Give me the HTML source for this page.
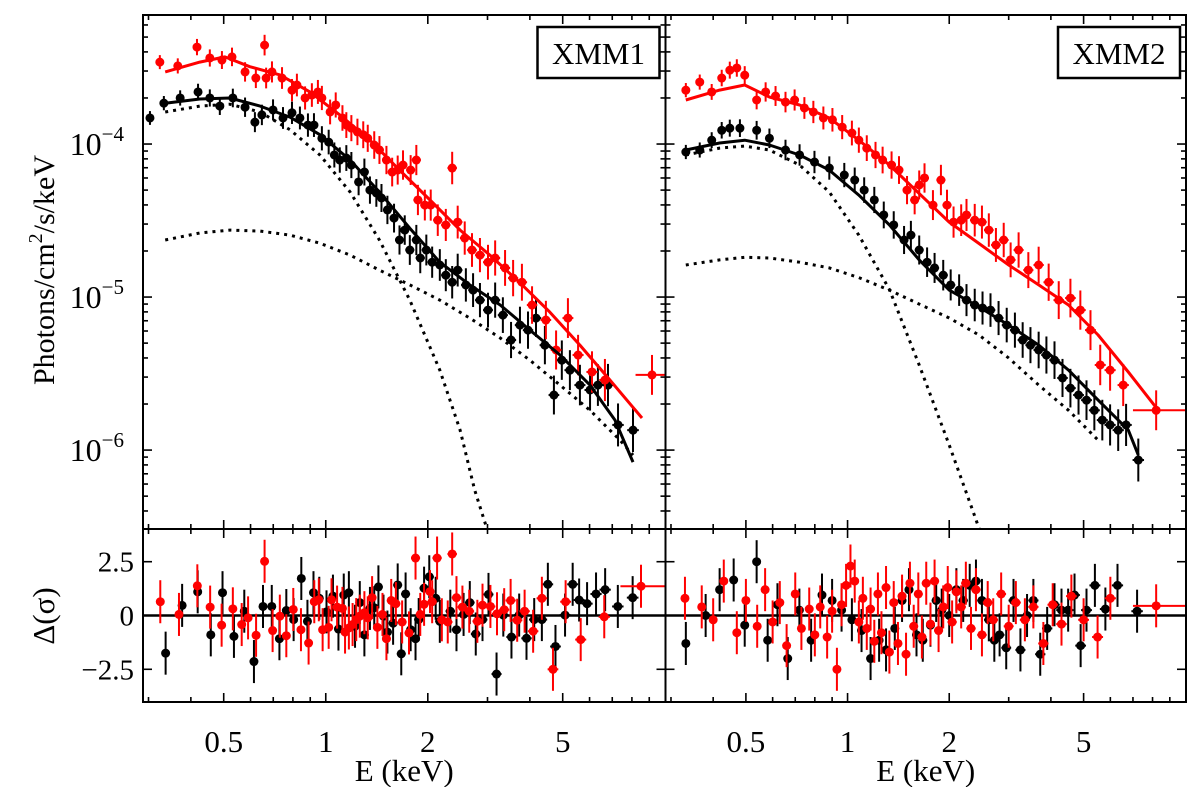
<!DOCTYPE html>
<html><head><meta charset="utf-8"><style>
body{margin:0;background:#fff}
svg text{font-family:"Liberation Serif",serif;fill:#000}
</style></head><body>
<svg id="chart" width="1200" height="787" viewBox="0 0 1200 787" xmlns="http://www.w3.org/2000/svg"></svg>
<script>
// ---------- data: XMM1 ----------
const m1RedE=[0.324,0.366,0.417,0.455,0.494,0.529,0.578,0.622,0.66,0.667,0.694,0.743,0.795,0.822,0.869,0.910,0.948,0.974,1.03,1.07,1.12,1.15,1.19,1.24,1.29,1.33,1.39,1.44,1.51,1.57,1.63,1.69,1.78,1.85,1.87,1.96,2.04,2.14,2.26,2.36,2.45,2.57,2.70,2.85,3.01,3.16,3.38,3.57,3.79,4.06,4.46,4.78,5.18,5.55,6.10,6.66];
const m1RedF=[3.43e-4,3.24e-4,4.30e-4,3.65e-4,3.54e-4,3.71e-4,2.96e-4,2.70e-4,4.43e-4,2.70e-4,2.96e-4,2.70e-4,2.25e-4,2.43e-4,2.00e-4,2.09e-4,2.19e-4,2.00e-4,1.62e-4,1.80e-4,1.48e-4,1.33e-4,1.27e-4,1.20e-4,1.15e-4,1.09e-4,0.985e-4,0.914e-4,0.786e-4,0.656e-4,0.676e-4,0.729e-4,0.676e-4,0.786e-4,4.31e-5,3.99e-5,3.99e-5,3.18e-5,2.96e-5,6.97e-5,3.09e-5,2.43e-5,2.03e-5,1.88e-5,1.69e-5,1.80e-5,1.55e-5,1.33e-5,1.25e-5,8.87e-6,7.08e-6,4.51e-6,7.29e-6,4.18e-6,3.24e-6,2.87e-6];
const m1RedLastE=[9.17], m1RedLastF=[3.1e-6], m1RedLastLo=[8.2], m1RedLastHi=[10.05];
const m1BlkE=[0.303,0.333,0.372,0.420,0.455,0.487,0.532,0.578,0.618,0.648,0.699,0.748,0.795,0.839,0.886,0.923,0.974,1.02,1.06,1.10,1.15,1.19,1.25,1.30,1.35,1.41,1.46,1.52,1.59,1.65,1.71,1.77,1.85,1.90,1.98,2.06,2.17,2.26,2.36,2.45,2.59,2.72,2.85,3.01,3.16,3.33,3.52,3.74,3.95,4.17,4.43,4.71,4.97,5.25,5.62,6.02,6.35,6.80,7.28,8.06];
const m1BlkF=[1.48e-4,1.85e-4,2.00e-4,2.19e-4,2.00e-4,1.77e-4,2.00e-4,1.74e-4,1.39e-4,1.55e-4,1.67e-4,1.48e-4,1.60e-4,1.48e-4,1.33e-4,1.33e-4,1.09e-4,1.03e-4,0.848e-4,0.786e-4,0.810e-4,0.729e-4,0.565e-4,0.656e-4,0.500e-4,4.79e-5,4.44e-5,3.71e-5,3.28e-5,2.36e-5,2.74e-5,2.03e-5,2.36e-5,1.80e-5,2.03e-5,1.69e-5,1.62e-5,1.39e-5,1.25e-5,1.50e-5,1.20e-5,1.11e-5,9.55e-6,8.22e-6,9.55e-6,7.62e-6,5.24e-6,6.56e-6,6.08e-6,7.29e-6,4.85e-6,2.29e-6,3.87e-6,3.33e-6,2.66e-6,2.47e-6,2.66e-6,2.66e-6,1.46e-6,1.35e-6];
const m1RedModE=[0.336,0.425,0.504,0.597,0.733,0.898,1.10,1.35,1.65,2.03,2.49,3.05,3.74,4.58,5.62,6.89,8.57];
const m1RedModF=[2.96e-4,3.43e-4,3.71e-4,3.20e-4,2.83e-4,2.19e-4,1.55e-4,1.06e-4,6.76e-5,4.31e-5,2.74e-5,1.88e-5,1.24e-5,7.98e-6,4.85e-6,2.87e-6,1.62e-6];
const m1BlkModE=[0.336,0.425,0.521,0.640,0.784,0.961,1.18,1.44,1.77,2.17,2.66,3.27,4.00,4.91,6.02,7.13,8.06];
const m1BlkModF=[1.85e-4,1.97e-4,2.0e-4,1.77e-4,1.50e-4,1.15e-4,7.86e-5,4.86e-5,2.82e-5,1.69e-5,1.20e-5,8.87e-6,6.08e-6,4.18e-6,2.66e-6,1.57e-6,8.35e-7];
const m1BbE=[0.336,0.425,0.521,0.640,0.784,0.961,1.18,1.44,1.77,2.17,2.49,2.75,2.99];
const m1BbF=[1.62e-4,1.77e-4,1.82e-4,1.62e-4,1.24e-4,8.48e-5,4.86e-5,2.36e-5,9.55e-6,3.33e-6,1.35e-6,5.48e-7,3.05e-7];
const m1PlE=[0.336,0.425,0.521,0.640,0.784,0.961,1.18,1.44,1.77,2.17,2.66,3.27,4.00,4.91,6.02,7.38,8.06];
const m1PlF=[2.36e-5,2.62e-5,2.74e-5,2.70e-5,2.54e-5,2.25e-5,1.88e-5,1.50e-5,1.20e-5,9.55e-6,7.29e-6,5.40e-6,3.87e-6,2.66e-6,1.82e-6,1.16e-6,9.27e-7];
const m1BlkResE=[0.337,0.377,0.419,0.458,0.496,0.536,0.575,0.614,0.653,0.693,0.730,0.765,0.804,0.847,0.883,0.920,0.957,1.005,1.05,1.09,1.13,1.17,1.22,1.26,1.30,1.35,1.39,1.43,1.48,1.52,1.58,1.63,1.67,1.72,1.78,1.84,1.88,1.95,2.02,2.11,2.17,2.33,2.43,2.55,2.66,2.77,2.90,3.02,3.19,3.34,3.53,3.72,3.91,4.12,4.34,4.52,4.76,5.08,5.35,5.59,5.90,6.27,6.67,7.27,8.04];
const m1BlkResV=[-1.75,0.47,1.1,-0.9,1.06,-0.97,0.2,-2.14,0.42,0.42,-1.08,0.23,-0.19,1.72,-0.27,1.06,0.8,0.17,0.9,-0.63,0.95,1.06,-0.5,0.6,-0.9,0.33,0.36,1.33,-0.03,-0.77,-0.36,1.42,-1.78,1.0,-0.66,-1.08,-0.19,1.27,1.8,0.8,-0.27,0.2,-0.66,0.05,0.6,-0.86,-0.19,0.98,-2.72,0.02,-1.0,0.02,-1.06,-0.19,-0.19,1.45,-1.44,0.02,1.45,0.72,0.55,1.0,1.2,0.42,0.83];
const m1RedResE=[0.325,0.369,0.418,0.456,0.493,0.532,0.565,0.590,0.623,0.660,0.697,0.732,0.765,0.802,0.845,0.890,0.925,0.954,0.979,1.02,1.04,1.08,1.12,1.14,1.17,1.20,1.23,1.26,1.30,1.33,1.37,1.42,1.47,1.51,1.56,1.61,1.68,1.76,1.84,1.90,1.95,2.03,2.06,2.13,2.20,2.29,2.36,2.43,2.53,2.65,2.80,2.90,3.06,3.20,3.36,3.51,3.67,3.86,4.09,4.34,4.68,5.10,5.65,6.63];
const m1RedResV=[0.64,0.05,1.38,0.39,-0.45,0.31,-0.42,-0.11,-0.92,2.52,-0.70,-0.03,-0.94,0.28,-0.66,-1.28,0.64,0.73,-0.66,-0.55,0.73,0.39,0.33,-0.77,-0.58,-0.42,-0.19,-0.03,0.13,-0.11,0.83,-0.55,0.05,-1.08,0.70,0.55,-0.30,-0.81,2.67,0.05,0.52,1.11,0.64,2.67,-0.20,-0.30,2.86,0.83,0.39,0.20,-0.27,0.48,0.42,0.08,0.27,0.70,-0.22,0.20,-0.73,0.80,-2.5,0.64,-1.12,-0.06];
const m1RedResLastE=[8.51], m1RedResLastV=[1.36];
// ---------- data: XMM2 ----------
const m2RedE=[0.332,0.365,0.396,0.424,0.448,0.470,0.496,0.538,0.572,0.612,0.655,0.697,0.745,0.792,0.848,0.902,0.964,1.03,1.08,1.14,1.21,1.27,1.35,1.42,1.50,1.58,1.63,1.69,1.79,1.89,1.97,2.06,2.17,2.25,2.38,2.50,2.62,2.75,2.90,3.04,3.21,3.43,3.68,3.94,4.22,4.57,4.89,5.24,5.60,5.99,6.55];
const m2RedF=[2.25e-4,2.54e-4,2.19e-4,2.70e-4,3.04e-4,3.14e-4,2.82e-4,1.94e-4,2.19e-4,2.06e-4,1.88e-4,1.94e-4,1.72e-4,1.62e-4,1.48e-4,1.44e-4,1.29e-4,1.18e-4,1.06e-4,0.94e-4,0.848e-4,0.786e-4,0.729e-4,0.676e-4,5.0e-5,4.31e-5,5.40e-5,6.0e-5,3.99e-5,5.82e-5,3.99e-5,3.09e-5,3.18e-5,3.44e-5,3.18e-5,3.09e-5,2.74e-5,2.19e-5,2.36e-5,1.75e-5,2.03e-5,1.50e-5,1.62e-5,1.25e-5,9.55e-6,9.85e-6,8.22e-6,6.08e-6,3.60e-6,3.33e-6,2.66e-6];
const m2RedLastE=[8.20], m2RedLastF=[1.82e-6], m2RedLastLo=[7.0], m2RedLastHi=[10.05];
const m2BlkE=[0.332,0.365,0.396,0.424,0.448,0.480,0.538,0.587,0.655,0.721,0.798,0.883,0.978,1.05,1.12,1.20,1.28,1.37,1.47,1.54,1.63,1.72,1.81,1.92,2.02,2.14,2.25,2.38,2.51,2.65,2.80,2.96,3.13,3.30,3.48,3.68,3.88,4.10,4.33,4.57,4.83,5.10,5.38,5.68,5.99,6.33,6.68,7.26];
const m2BlkF=[0.887e-4,0.914e-4,1.06e-4,1.23e-4,1.27e-4,1.27e-4,1.23e-4,1.09e-4,0.914e-4,0.848e-4,0.763e-4,0.697e-4,6.27e-5,5.82e-5,5.0e-5,4.31e-5,3.44e-5,2.96e-5,2.36e-5,2.54e-5,2.03e-5,1.69e-5,1.55e-5,1.39e-5,1.20e-5,1.11e-5,9.55e-6,8.87e-6,8.48e-6,8.22e-6,7.29e-6,6.56e-6,6.08e-6,5.24e-6,4.85e-6,4.51e-6,4.18e-6,3.87e-6,2.96e-6,2.54e-6,2.29e-6,2.12e-6,1.82e-6,1.57e-6,1.46e-6,1.35e-6,1.46e-6,8.61e-7];
const m2RedModE=[0.332,0.418,0.496,0.587,0.721,0.883,1.08,1.33,1.63,2.00,2.45,3.00,3.68,4.51,5.52,6.78,8.32];
const m2RedModF=[1.94e-4,2.25e-4,2.43e-4,2.03e-4,1.80e-4,1.48e-4,1.06e-4,7.29e-5,4.74e-5,3.09e-5,2.24e-5,1.62e-5,1.20e-5,8.87e-6,5.65e-6,3.24e-6,1.82e-6];
const m2BlkModE=[0.332,0.418,0.496,0.587,0.721,0.883,1.08,1.33,1.63,2.00,2.45,3.00,3.68,4.51,5.52,6.78,7.26];
const m2BlkModF=[0.914e-4,1.015e-4,1.06e-4,0.985e-4,0.848e-4,0.676e-4,4.64e-5,2.96e-5,1.75e-5,1.11e-5,8.61e-6,6.56e-6,4.85e-6,3.33e-6,2.12e-6,1.35e-6,0.927e-6];
const m2BbE=[0.332,0.418,0.496,0.587,0.721,0.883,1.08,1.33,1.63,2.00,2.36,2.67];
const m2BbF=[0.848e-4,0.94e-4,0.97e-4,0.914e-4,0.729e-4,4.86e-5,2.54e-5,1.12e-5,3.60e-6,1.08e-6,3.9e-7,1.8e-7];
const m2PlE=[0.332,0.418,0.496,0.587,0.721,0.883,1.08,1.33,1.63,2.00,2.45,3.00,3.68,4.51,5.52];
const m2PlF=[1.62e-5,1.75e-5,1.82e-5,1.80e-5,1.69e-5,1.55e-5,1.34e-5,1.11e-5,9.0e-6,7.3e-6,5.65e-6,4.0e-6,2.66e-6,1.82e-6,1.16e-6];
const m2BlkResE=[0.332,0.38,0.418,0.46,0.496,0.538,0.58,0.62,0.665,0.72,0.78,0.84,0.9,0.96,1.03,1.1,1.17,1.24,1.3,1.38,1.45,1.52,1.6,1.67,1.76,1.83,1.9,2.0,2.1,2.2,2.3,2.4,2.5,2.62,2.72,2.82,2.95,3.1,3.25,3.4,3.55,3.72,3.9,4.1,4.3,4.5,4.7,4.9,5.1,5.4,5.8,6.3,7.2];
const m2BlkResV=[-1.3,0,1.2,1.65,-0.45,2.5,-1.15,0.5,-2.0,0.25,-1.15,0.95,0.7,0.25,-0.2,-0.7,-2.0,-1.15,-1.6,-0.6,0.7,1.2,-0.9,-1.15,-0.45,0.7,0.25,0,1.2,0.7,1.4,1.6,0.7,-0.2,-1.15,-0.9,-1.5,0.7,-1.6,0,0.7,-1.8,-0.6,0.5,0.25,0.25,0.95,-1.4,0.25,1.4,0.3,1.4,0.2];
const m2RedResE=[0.33,0.37,0.4,0.43,0.47,0.5,0.54,0.57,0.6,0.63,0.66,0.7,0.73,0.77,0.8,0.83,0.87,0.9,0.93,0.96,0.99,1.02,1.05,1.08,1.11,1.14,1.17,1.2,1.23,1.26,1.3,1.33,1.37,1.41,1.45,1.49,1.53,1.57,1.62,1.66,1.71,1.76,1.81,1.86,1.92,1.98,2.04,2.1,2.17,2.24,2.32,2.4,2.5,2.6,2.7,2.85,3.0,3.15,3.35,3.55,3.8,4.05,4.3,4.6,5.0,5.5,6.0];
const m2RedResV=[0.8,0.4,-0.2,1.6,-0.8,0.7,-0.5,1.2,-0.3,0.6,-1.4,1.0,-0.6,0.3,-0.9,0.4,-1.0,0.2,-2.5,0.5,1.4,2.3,1.6,-0.3,0.8,-0.6,0.3,-1.2,1.0,-0.8,1.3,-1.7,0.6,-1.3,0.9,-1.8,1.5,-0.5,1.0,-1.0,1.5,-0.4,1.6,-0.7,0.4,1.3,-0.3,1.1,0.4,1.5,-0.6,1.2,-0.9,0.6,-0.2,1.0,-0.5,0.6,-0.2,0.4,-1.3,0.5,-0.4,0.9,-0.2,-1.0,0.8];
const m2RedResLastE=[8.2], m2RedResLastV=[0.45];
// axis ticks
const xTickVals=[0.5,1,2,5];
const xTickLabels=["0.5","1","2","5"];
const xMinorVals=[0.3,0.4,0.6,0.7,0.8,0.9,3,4,6,7,8,9];
const yDecades=[-4,-5,-6];
const rTickVals=[2.5,0,-2.5];
const rTickLabels=["2.5","0","\u22122.5"];

// ---------- layout ----------
const NS="http://www.w3.org/2000/svg";
const svg=document.getElementById('chart');
const panels=[{x0:143,x1:665.5},{x0:665.5,x1:1186}];
const top0=15, top1=529, res0=529, res1=702;
const XMIN=0.289, XMAX=10.05, YMIN=3.05e-7, YMAX=6.97e-4, RMIN=-4.02, RMAX=4.02;
function xs(p,E){const P=panels[p];return P.x0+(Math.log10(E)-Math.log10(XMIN))/(Math.log10(XMAX)-Math.log10(XMIN))*(P.x1-P.x0);}
function ys(F){return top0+(Math.log10(YMAX)-Math.log10(F))/(Math.log10(YMAX)-Math.log10(YMIN))*(top1-top0);}
function yr(v){return res0+(RMAX-v)/(RMAX-RMIN)*(res1-res0);}
function mk(tag,attrs,parent){const e=document.createElementNS(NS,tag);for(const k in attrs)e.setAttribute(k,attrs[k]);(parent||svg).appendChild(e);return e;}

const defs=mk('defs',{});
panels.forEach((P,i)=>{
  const c=mk('clipPath',{id:'ct'+i},defs);mk('rect',{x:P.x0,y:top0,width:P.x1-P.x0,height:top1-top0},c);
  const c2=mk('clipPath',{id:'cr'+i},defs);mk('rect',{x:P.x0,y:res0,width:P.x1-P.x0,height:res1-res0},c2);
});

function drawCurve(p,E,F,color,dotted,name){
  let d='';E.forEach((e,i)=>{d+=(i?'L':'M')+xs(p,e).toFixed(1)+','+ys(F[i]).toFixed(1);});
  const el=mk('path',{d:d,fill:'none',stroke:color,'stroke-width':3,'stroke-dasharray':dotted?'3 5':'none','clip-path':'url(#ct'+p+')','stroke-linejoin':'round'});
  
  
}
function drawPoints(p,E,F,color,name){
  const g=mk('g',{'clip-path':'url(#ct'+p+')'});
  
  
  E.forEach((e,i)=>{
    const x=xs(p,e),y=ys(F[i]);const le=Math.log10(e);
    const err=0.045+0.07*Math.max(0,le+0.5);
    const yl=ys(F[i]*Math.pow(10,-err)),yh=ys(F[i]*Math.pow(10,err));
    mk('line',{x1:x,x2:x,y1:yh,y2:yl,stroke:color,'stroke-width':2},g);
    const dx=4+2*Math.max(0,le);
    mk('line',{x1:x-dx,x2:x+dx,y1:y,y2:y,stroke:color,'stroke-width':2},g);
    const c=mk('circle',{cx:x,cy:y,r:4.5,fill:color},g);
    
    
  });
}
function drawLast(p,E,F,lo,hi,color,name){
  const g=mk('g',{'clip-path':'url(#ct'+p+')'});
  
  
  const x=xs(p,E[0]),y=ys(F[0]);
  mk('line',{x1:xs(p,lo[0]),x2:xs(p,hi[0]),y1:y,y2:y,stroke:color,'stroke-width':2},g);
  mk('line',{x1:x,x2:x,y1:ys(F[0]*1.35),y2:ys(F[0]/1.35),stroke:color,'stroke-width':2},g);
  mk('circle',{cx:x,cy:y,r:4.5,fill:color},g);
}
function drawRes(p,E,V,color,name){
  const g=mk('g',{'clip-path':'url(#cr'+p+')'});
  
  
  E.forEach((e,i)=>{
    const x=xs(p,e),y=yr(V[i]);const le=Math.log10(e);
    mk('line',{x1:x,x2:x,y1:yr(V[i]+1),y2:yr(V[i]-1),stroke:color,'stroke-width':2},g);
    const dx=4+2*Math.max(0,le);
    mk('line',{x1:x-dx,x2:x+dx,y1:y,y2:y,stroke:color,'stroke-width':2},g);
    mk('circle',{cx:x,cy:y,r:4.5,fill:color},g);
  });
}
function drawResLast(p,E,V,lo,hi,color){
  const x=xs(p,E[0]),y=yr(V[0]);
  const g=mk('g',{'clip-path':'url(#cr'+p+')'});
  
  
  mk('line',{x1:xs(p,lo),x2:xs(p,hi),y1:y,y2:y,stroke:color,'stroke-width':2},g);
  mk('line',{x1:x,x2:x,y1:yr(V[0]+1),y2:yr(V[0]-1),stroke:color,'stroke-width':2},g);
  mk('circle',{cx:x,cy:y,r:4.5,fill:color},g);
}

const RED='#ff0000';
panels.forEach((P,i)=>{const l=mk('line',{x1:P.x0,x2:P.x1,y1:yr(0),y2:yr(0),stroke:'#000','stroke-width':2.5});
  
  });

drawCurve(0,m1BbE,m1BbF,'#000',true,'blackbody-model-xmm1');
drawCurve(0,m1PlE,m1PlF,'#000',true,'powerlaw-model-xmm1');
drawPoints(0,m1BlkE,m1BlkF,'#000','black-data-xmm1');
drawPoints(0,m1RedE,m1RedF,RED,'red-data-xmm1');
drawLast(0,m1RedLastE,m1RedLastF,m1RedLastLo,m1RedLastHi,RED,'red-last-bin-xmm1');
drawCurve(0,m1BlkModE,m1BlkModF,'#000',false,'black-model-xmm1');
drawCurve(0,m1RedModE,m1RedModF,RED,false,'red-model-xmm1');
drawRes(0,m1BlkResE,m1BlkResV,'#000','black-residuals-xmm1');
drawRes(0,m1RedResE,m1RedResV,RED,'red-residuals-xmm1');
drawResLast(0,m1RedResLastE,m1RedResLastV,7.4,10.05,RED);
drawCurve(1,m2BbE,m2BbF,'#000',true,'blackbody-model-xmm2');
drawCurve(1,m2PlE,m2PlF,'#000',true,'powerlaw-model-xmm2');
drawPoints(1,m2BlkE,m2BlkF,'#000','black-data-xmm2');
drawPoints(1,m2RedE,m2RedF,RED,'red-data-xmm2');
drawLast(1,m2RedLastE,m2RedLastF,m2RedLastLo,m2RedLastHi,RED,'red-last-bin-xmm2');
drawCurve(1,m2BlkModE,m2BlkModF,'#000',false,'black-model-xmm2');
drawCurve(1,m2RedModE,m2RedModF,RED,false,'red-model-xmm2');
drawRes(1,m2BlkResE,m2BlkResV,'#000','black-residuals-xmm2');
drawRes(1,m2RedResE,m2RedResV,RED,'red-residuals-xmm2');
drawResLast(1,m2RedResLastE,m2RedResLastV,7.0,10.05,RED);

panels.forEach((P,i)=>{
  const g=mk('g',{});
  
  
  mk('rect',{x:P.x0,y:top0,width:P.x1-P.x0,height:res1-top0,fill:'none',stroke:'#000','stroke-width':2},g);
  mk('line',{x1:P.x0,x2:P.x1,y1:res0,y2:res0,stroke:'#000','stroke-width':2},g);
  const tk=(x1,y1,x2,y2)=>mk('line',{x1:x1,y1:y1,x2:x2,y2:y2,stroke:'#000','stroke-width':1.6},g);
  [[top0,1],[top1,-1],[res0,1],[res1,-1]].forEach(([yy,s])=>{
    xTickVals.forEach(v=>{const x=xs(i,v);tk(x,yy,x,yy+s*9);});
    xMinorVals.forEach(v=>{const x=xs(i,v);tk(x,yy,x,yy+s*5);});
  });
  [[P.x0,1],[P.x1,-1]].forEach(([xx,s])=>{
    yDecades.forEach(d=>{const y=ys(Math.pow(10,d));tk(xx,y,xx+s*9,y);
      for(let m=2;m<10;m++){const yy=ys(m*Math.pow(10,d));if(yy>top0&&yy<top1)tk(xx,yy,xx+s*5,yy);}});
    for(let m=2;m<10;m++){const yy=ys(m*1e-7);if(yy>top0&&yy<top1)tk(xx,yy,xx+s*5,yy);}
    rTickVals.forEach(v=>{const y=yr(v);tk(xx,y,xx+s*9,y);});
  });
  xTickVals.forEach((v,k)=>{const t=mk('text',{x:xs(i,v),y:752,'font-size':31,'text-anchor':'middle'},g);t.textContent=xTickLabels[k];
    
    });
  const xt=mk('text',{x:(P.x0+P.x1)/2,y:781,'font-size':31,'text-anchor':'middle'},g);xt.textContent='E (keV)';
  
  
  const bx=P.x1-128,by=27;
  const lb=mk('g',{},g);
  
  
  mk('rect',{x:bx,y:by,width:122,height:51,fill:'#fff',stroke:'#000','stroke-width':2.5},lb);
  const lt=mk('text',{x:bx+61,y:by+37,'font-size':31,'text-anchor':'middle'},lb);lt.textContent='XMM'+(i+1);
});
yDecades.forEach(d=>{
  const t=mk('text',{x:124,y:ys(Math.pow(10,d))+11,'font-size':32,'text-anchor':'end'});
  
  
  t.innerHTML='10<tspan dy="-14" font-size="21">\u2212'+(-d)+'</tspan>';
});
rTickVals.forEach((v,k)=>{
  const t=mk('text',{x:134,y:yr(v)+10,'font-size':29,'text-anchor':'end'});t.textContent=rTickLabels[k];
  
  
});
const yt=mk('text',{x:0,y:0,'font-size':30,'text-anchor':'middle',transform:'translate(54,270) rotate(-90)'});


yt.innerHTML='Photons/cm<tspan dy="-12" font-size="20">2</tspan><tspan dy="12">/s/keV</tspan>';
const rt=mk('text',{x:0,y:0,'font-size':31,'text-anchor':'middle',transform:'translate(54,616) rotate(-90)'});


rt.textContent='\u0394(\u03c3)';
</script>
</body></html>
